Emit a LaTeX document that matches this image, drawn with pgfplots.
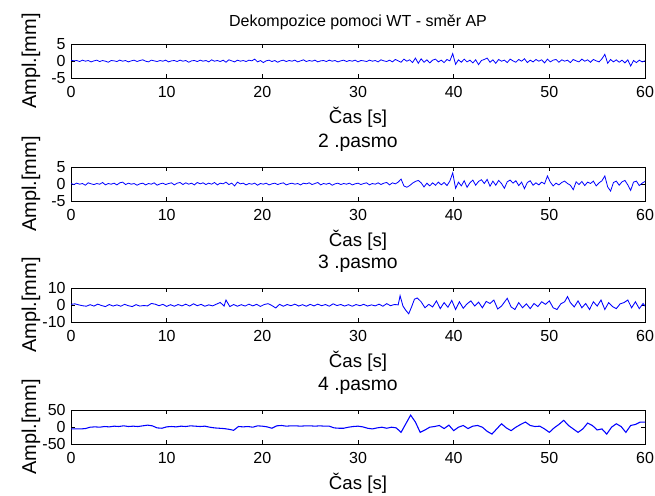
\documentclass[border=0pt]{standalone}
\usepackage{pgfplots}
\pgfplotsset{compat=1.18}
\usepackage{fontspec}
\setmainfont{Liberation Sans}
\definecolor{mblue}{RGB}{0,0,255}

\pgfplotsset{
  wtpanel/.style={
    scale only axis,
    width=430.5pt, height=25.8pt,
    xmin=0, xmax=60,
    xtick={0,10,...,60},
    tick align=inside,
    major tick length=3pt,
    axis line style={line width=0.7pt},
    every tick/.style={black, line width=0.7pt},
    /pgf/number format/assume math mode=true,
    ticklabel style={font=\fontsize{12}{13}\selectfont},
    xticklabel style={anchor=center, yshift=-10.5pt},
    yticklabel style={anchor=east, xshift=-0.5pt},
    xlabel={Čas [s]},
    ylabel={Ampl.[mm]},
    xlabel style={font=\fontsize{14}{15}\selectfont, at={(axis description cs:0.5,0)}, anchor=center, yshift=-29pt},
    ylabel style={font=\fontsize{15}{16}\selectfont, at={(axis description cs:0,0.5)}, anchor=center, yshift=30pt},
    title style={font=\fontsize{14.5}{15}\selectfont, at={(axis description cs:0.5,1)}, anchor=center, yshift=12pt},
    clip=true,
  },
}

\begin{document}
\begin{tikzpicture}
\useasboundingbox (0,0) rectangle (491.25pt,-371.25pt);

% panel 1
\begin{axis}[wtpanel, at={(53.25pt,-33pt)}, anchor=north west,
  ymin=-5, ymax=5, ytick={-5,0,5},
  title={Dekompozice pomoci WT - směr AP},
  title style={font=\fontsize{12}{13}\selectfont, yshift=-1.5pt}]
\addplot[mblue, line width=0.6pt] coordinates {
(0.0,0.3)(0.3,0.1)(0.6,0.2)(0.9,-0.1)(1.2,0.3)(1.5,0.0)(1.8,0.2)(2.1,-0.2)(2.4,0.1)(2.7,0.3)
(3.0,-0.1)(3.3,0.2)(3.6,0.0)(3.9,-0.3)(4.2,0.2)(4.5,0.1)(4.8,-0.1)(5.1,0.3)(5.4,0.0)(5.7,0.2)
(6.0,-0.2)(6.3,0.1)(6.6,0.3)(6.9,-0.1)(7.2,0.2)(7.5,0.4)(7.8,0.0)(8.1,-0.2)(8.4,0.3)(8.7,0.1)
(9.0,-0.1)(9.3,0.2)(9.6,0.0)(9.9,0.3)(10.2,-0.2)(10.5,0.1)(10.8,0.2)(11.1,-0.1)(11.4,0.3)(11.7,0.0)
(12.0,0.2)(12.3,-0.3)(12.6,0.1)(12.9,0.2)(13.2,-0.1)(13.5,0.3)(13.8,0.0)(14.1,0.2)(14.4,-0.2)(14.7,0.4)
(15.0,0.0)(15.3,0.2)(15.6,-0.1)(15.9,0.3)(16.2,-0.3)(16.5,0.4)(16.8,0.1)(17.1,-0.2)(17.4,0.3)(17.7,0.0)
(18.0,0.2)(18.3,-0.1)(18.6,0.3)(18.9,0.1)(19.2,0.6)(19.5,-0.2)(19.8,0.2)(20.1,-0.4)(20.4,0.1)(20.7,0.3)
(21.0,-0.1)(21.3,0.2)(21.6,-0.3)(21.9,0.1)(22.2,0.3)(22.5,-0.1)(22.8,0.2)(23.1,0.0)(23.4,0.3)(23.7,-0.2)
(24.0,0.1)(24.3,0.4)(24.6,-0.1)(24.9,0.2)(25.2,0.0)(25.5,0.3)(25.8,-0.2)(26.1,0.1)(26.4,0.2)(26.7,-0.1)
(27.0,0.3)(27.3,0.0)(27.6,0.2)(27.9,-0.2)(28.2,0.1)(28.5,0.3)(28.8,-0.1)(29.1,0.2)(29.4,0.0)(29.7,0.3)
(30.0,-0.2)(30.3,0.2)(30.6,0.1)(30.9,-0.1)(31.2,0.3)(31.5,0.0)(31.8,0.2)(32.1,-0.2)(32.4,0.4)(32.7,0.1)
(33.0,-0.1)(33.3,0.3)(33.6,-0.2)(33.9,0.5)(34.2,0.1)(34.5,-0.3)(34.8,0.6)(35.1,0.0)(35.4,0.4)(35.7,-0.4)
(36.0,0.9)(36.3,-0.6)(36.6,0.7)(36.9,-0.3)(37.2,0.4)(37.5,-0.5)(37.8,0.3)(38.1,0.6)(38.4,-0.2)(38.7,0.3)
(39.0,-0.4)(39.3,0.5)(39.6,0.1)(39.9,2.2)(40.2,-0.9)(40.5,0.4)(40.8,-0.3)(41.1,0.6)(41.4,-0.2)(41.7,0.3)
(42.0,-0.5)(42.3,0.4)(42.6,-1.0)(42.9,0.2)(43.2,0.5)(43.5,0.9)(43.8,-0.3)(44.1,0.4)(44.4,-0.6)(44.7,0.5)
(45.0,0.0)(45.3,0.3)(45.6,-0.4)(45.9,0.6)(46.2,0.1)(46.5,-0.3)(46.8,0.5)(47.1,0.0)(47.4,0.7)(47.7,-0.4)
(48.0,0.3)(48.3,-0.2)(48.6,0.5)(48.9,0.0)(49.2,0.4)(49.5,-0.5)(49.8,0.6)(50.1,-0.2)(50.4,0.3)(50.7,0.5)
(51.0,-0.3)(51.3,0.4)(51.6,0.0)(51.9,0.3)(52.2,-0.4)(52.5,0.5)(52.8,0.1)(53.1,-0.2)(53.4,0.6)(53.7,0.0)
(54.0,0.4)(54.3,-0.3)(54.6,0.5)(54.9,0.1)(55.2,-0.2)(55.5,0.7)(55.8,2.0)(56.1,-0.6)(56.4,0.5)(56.7,-0.2)
(57.0,0.4)(57.3,-0.3)(57.6,0.3)(57.9,-0.5)(58.2,0.4)(58.5,-1.4)(58.8,0.2)(59.1,-0.4)(59.4,0.3)(59.7,-0.2)
(60.0,0.1)
};
\end{axis}

% panel 2
\begin{axis}[wtpanel, at={(53.25pt,-125.25pt)}, anchor=north west,
  ymin=-5, ymax=5, ytick={-5,0,5},
  title={2 .pasmo}]
\addplot[mblue, line width=0.6pt] coordinates {
(0.0,0.2)(0.3,-0.1)(0.6,0.3)(0.9,0.0)(1.2,0.2)(1.5,-0.3)(1.8,0.4)(2.1,0.1)(2.4,-0.1)(2.7,0.2)
(3.0,0.0)(3.3,0.5)(3.6,-0.2)(3.9,0.2)(4.2,0.0)(4.5,0.3)(4.8,-0.2)(5.1,0.4)(5.4,0.6)(5.7,-0.1)
(6.0,0.3)(6.3,0.0)(6.6,0.2)(6.9,-0.3)(7.2,0.1)(7.5,0.3)(7.8,-0.2)(8.1,0.2)(8.4,0.0)(8.7,0.4)
(9.0,-0.3)(9.3,0.1)(9.6,0.3)(9.9,-0.1)(10.2,0.2)(10.5,0.4)(10.8,-0.2)(11.1,0.3)(11.4,0.5)(11.7,-0.1)
(12.0,0.4)(12.3,0.0)(12.6,0.3)(12.9,-0.2)(13.2,0.5)(13.5,0.1)(13.8,0.4)(14.1,-0.1)(14.4,0.3)(14.7,0.0)
(15.0,0.5)(15.3,-0.2)(15.6,0.3)(15.9,0.1)(16.2,0.6)(16.5,-0.1)(16.8,0.3)(17.1,-0.5)(17.4,0.6)(17.7,0.1)
(18.0,0.3)(18.3,-0.2)(18.6,0.2)(18.9,0.0)(19.2,0.3)(19.5,-0.3)(19.8,0.2)(20.1,0.0)(20.4,0.3)(20.7,-0.2)
(21.0,0.1)(21.3,0.3)(21.6,-0.1)(21.9,0.2)(22.2,0.4)(22.5,-0.2)(22.8,0.1)(23.1,0.3)(23.4,0.0)(23.7,0.2)
(24.0,-0.2)(24.3,0.3)(24.6,0.1)(24.9,0.4)(25.2,-0.1)(25.5,0.2)(25.8,0.5)(26.1,-0.2)(26.4,0.2)(26.7,0.0)
(27.0,0.3)(27.3,-0.3)(27.6,0.1)(27.9,0.3)(28.2,-0.1)(28.5,0.2)(28.8,0.0)(29.1,0.3)(29.4,-0.2)(29.7,0.1)
(30.0,0.3)(30.3,-0.1)(30.6,0.2)(30.9,0.4)(31.2,-0.2)(31.5,0.2)(31.8,0.0)(32.1,0.4)(32.4,-0.1)(32.7,0.3)
(33.0,0.5)(33.3,-0.2)(33.6,0.4)(33.9,0.1)(34.2,0.6)(34.5,1.5)(34.8,-0.5)(35.1,-0.9)(35.4,-0.4)(35.7,0.3)
(36.0,0.8)(36.3,1.1)(36.6,0.4)(36.9,-0.8)(37.2,0.3)(37.5,-0.5)(37.8,0.4)(38.1,-0.3)(38.4,0.6)(38.7,-0.2)
(39.0,0.5)(39.3,-0.4)(39.6,0.9)(39.9,3.3)(40.2,-1.2)(40.5,0.6)(40.8,-0.5)(41.1,1.0)(41.4,-0.9)(41.7,0.4)
(42.0,1.2)(42.3,-0.3)(42.6,0.8)(42.9,1.3)(43.2,0.2)(43.5,1.4)(43.8,-0.6)(44.1,0.9)(44.4,-0.3)(44.7,1.1)
(45.0,0.2)(45.3,-1.2)(45.6,0.7)(45.9,1.2)(46.2,0.3)(46.5,1.0)(46.8,-0.4)(47.1,0.6)(47.4,-1.3)(47.7,0.5)
(48.0,1.0)(48.3,-0.3)(48.6,0.4)(48.9,-0.2)(49.2,0.6)(49.5,0.1)(49.8,2.4)(50.1,0.6)(50.4,-0.5)(50.7,0.3)
(51.0,-0.2)(51.3,0.5)(51.6,0.9)(51.9,0.2)(52.2,-0.3)(52.5,-1.6)(52.8,0.7)(53.1,-0.1)(53.4,0.8)(53.7,-0.4)
(54.0,0.6)(54.3,0.2)(54.6,0.9)(54.9,-0.5)(55.2,0.4)(55.5,1.0)(55.8,2.4)(56.1,-0.8)(56.4,-2.0)(56.7,0.5)
(57.0,0.9)(57.3,-0.3)(57.6,0.7)(57.9,1.1)(58.2,-0.2)(58.5,-1.8)(58.8,0.6)(59.1,0.9)(59.4,-0.4)(59.7,0.3)
(60.0,0.8)
};
\end{axis}

% panel 3
\begin{axis}[wtpanel, at={(53.25pt,-216pt)}, anchor=north west,
  ymin=-10, ymax=10, ytick={-10,0,10},
  title={3 .pasmo}]
\addplot[mblue, line width=0.65pt] coordinates {
(0.0,0.5)(0.4,0.8)(0.8,0.2)(1.2,-0.3)(1.6,-0.6)(2.0,0.3)(2.4,-0.5)(2.8,0.6)(3.2,-0.2)(3.6,-0.8)
(4.0,0.4)(4.4,-0.5)(4.8,0.2)(5.2,-0.6)(5.6,0.5)(6.0,-0.3)(6.4,-0.8)(6.8,0.3)(7.2,-0.5)(7.6,-0.2)
(8.0,-0.4)(8.4,1.0)(8.8,0.6)(9.2,-0.3)(9.6,0.5)(10.0,-0.7)(10.4,0.3)(10.8,-0.6)(11.2,0.4)(11.6,-0.4)
(12.0,0.6)(12.4,-0.5)(12.8,0.8)(13.2,-0.3)(13.6,0.5)(14.0,-0.6)(14.4,0.2)(14.8,-0.4)(15.2,0.6)(15.6,1.6)
(16.0,-0.5)(16.2,3.0)(16.6,-0.8)(17.0,0.4)(17.4,-0.6)(17.8,0.3)(18.2,-0.5)(18.6,0.6)(19.0,-0.4)(19.4,0.5)
(19.8,-0.7)(20.2,0.4)(20.6,0.9)(21.0,-0.2)(21.4,-1.6)(21.8,0.5)(22.2,-0.6)(22.6,0.4)(23.0,-0.3)(23.4,0.6)
(23.8,-0.5)(24.2,0.3)(24.6,-0.6)(25.0,0.5)(25.4,-0.4)(25.8,0.6)(26.2,-0.3)(26.6,0.4)(27.0,-0.6)(27.4,0.8)
(27.8,-0.2)(28.2,0.4)(28.6,-0.5)(29.0,0.3)(29.4,-0.6)(29.8,0.4)(30.2,-0.3)(30.6,0.5)(31.0,-0.5)(31.4,0.2)
(31.8,-0.4)(32.2,0.6)(32.6,-0.6)(33.0,0.9)(33.4,-0.3)(33.8,0.4)(34.2,0.2)(34.4,5.5)(34.7,-0.5)(35.0,-3.0)
(35.3,-5.0)(35.6,-1.0)(35.9,3.5)(36.2,4.2)(36.6,2.0)(37.0,-1.5)(37.4,0.5)(37.8,-1.0)(38.2,2.5)(38.6,-2.0)
(39.0,1.5)(39.4,-1.2)(39.8,2.8)(40.2,-2.5)(40.6,2.0)(41.0,-1.8)(41.4,0.8)(41.8,2.5)(42.2,-0.5)(42.6,1.8)
(43.0,-1.5)(43.4,2.2)(43.8,1.0)(44.2,3.0)(44.6,-2.2)(45.0,-0.5)(45.6,4.0)(46.0,-1.0)(46.4,-2.5)(46.8,1.5)
(47.2,-1.5)(47.6,0.8)(48.0,-2.0)(48.4,1.0)(48.8,-0.8)(49.2,2.0)(49.6,0.5)(50.0,2.5)(50.4,-1.5)(50.8,-2.5)
(51.2,0.8)(51.6,2.0)(51.9,5.0)(52.2,1.5)(52.6,-1.0)(53.0,2.5)(53.4,-1.5)(53.8,1.0)(54.2,-2.5)(54.6,2.0)
(55.0,-0.5)(55.4,3.0)(55.8,-2.5)(56.2,1.5)(56.6,-0.8)(57.0,-2.0)(57.4,0.8)(57.8,1.5)(58.2,3.0)(58.6,-1.5)
(59.0,2.0)(59.4,-2.0)(59.8,1.0)(60.0,-0.5)
};
\end{axis}

% panel 4
\begin{axis}[wtpanel, at={(53.25pt,-307.5pt)}, anchor=north west,
  ymin=-50, ymax=50, ytick={-50,0,50},
  title={4 .pasmo}]
\addplot[mblue, line width=0.8pt] coordinates {
(0,-5)(0.5,-5)(1,-5)(1.5,-4)(2,0)(2.5,1)(3,0)(3.5,2)(4,1)(4.5,3)
(5,2)(5.5,4)(6,2)(6.5,3)(7,2)(7.5,4)(8,6)(8.5,4)(9,-2)(9.5,-3)
(10,1)(10.5,2)(11,1)(11.5,3)(12,2)(12.5,4)(13,3)(13.5,2)(14,3)(14.5,0)
(15,-2)(15.5,-3)(16,-4)(16.5,-6)(17,-9)(17.5,2)(18,1)(18.5,2)(19,0)(19.5,4)
(20,3)(20.5,1)(21,-3)(21.5,4)(22,5)(22.5,3)(23,4)(23.5,4)(24,3)(24.5,4)
(25,4)(25.5,3)(26,4)(26.5,3)(27,3)(27.5,-2)(28,-3)(28.5,-3)(29,0)(29.5,2)
(30,3)(30.5,1)(31,-3)(31.5,-5)(32,-2)(32.5,0)(33,-3)(33.5,0)(34,-2)(34.5,-15)
(35,10)(35.5,35)(36,15)(36.5,-15)(37,-8)(37.5,0)(38,2)(38.5,5)(39,-4)(39.5,6)
(40,-10)(40.5,0)(41,5)(41.5,-4)(42,3)(42.5,5)(43,0)(43.5,-12)(44,-20)(44.5,-5)
(45,10)(45.5,-2)(46,-10)(46.5,0)(47,8)(47.5,15)(48,5)(48.5,2)(49,3)(49.5,-5)
(50,-15)(50.5,-2)(51,8)(51.5,20)(52,5)(52.5,-5)(53,-15)(53.5,-5)(54,12)(54.5,5)
(55,-8)(55.5,-5)(56,-20)(56.5,0)(57,10)(57.5,2)(58,-15)(58.5,5)(59,8)(59.5,15)
(60,15)
};
\end{axis}
\end{tikzpicture}
\end{document}
